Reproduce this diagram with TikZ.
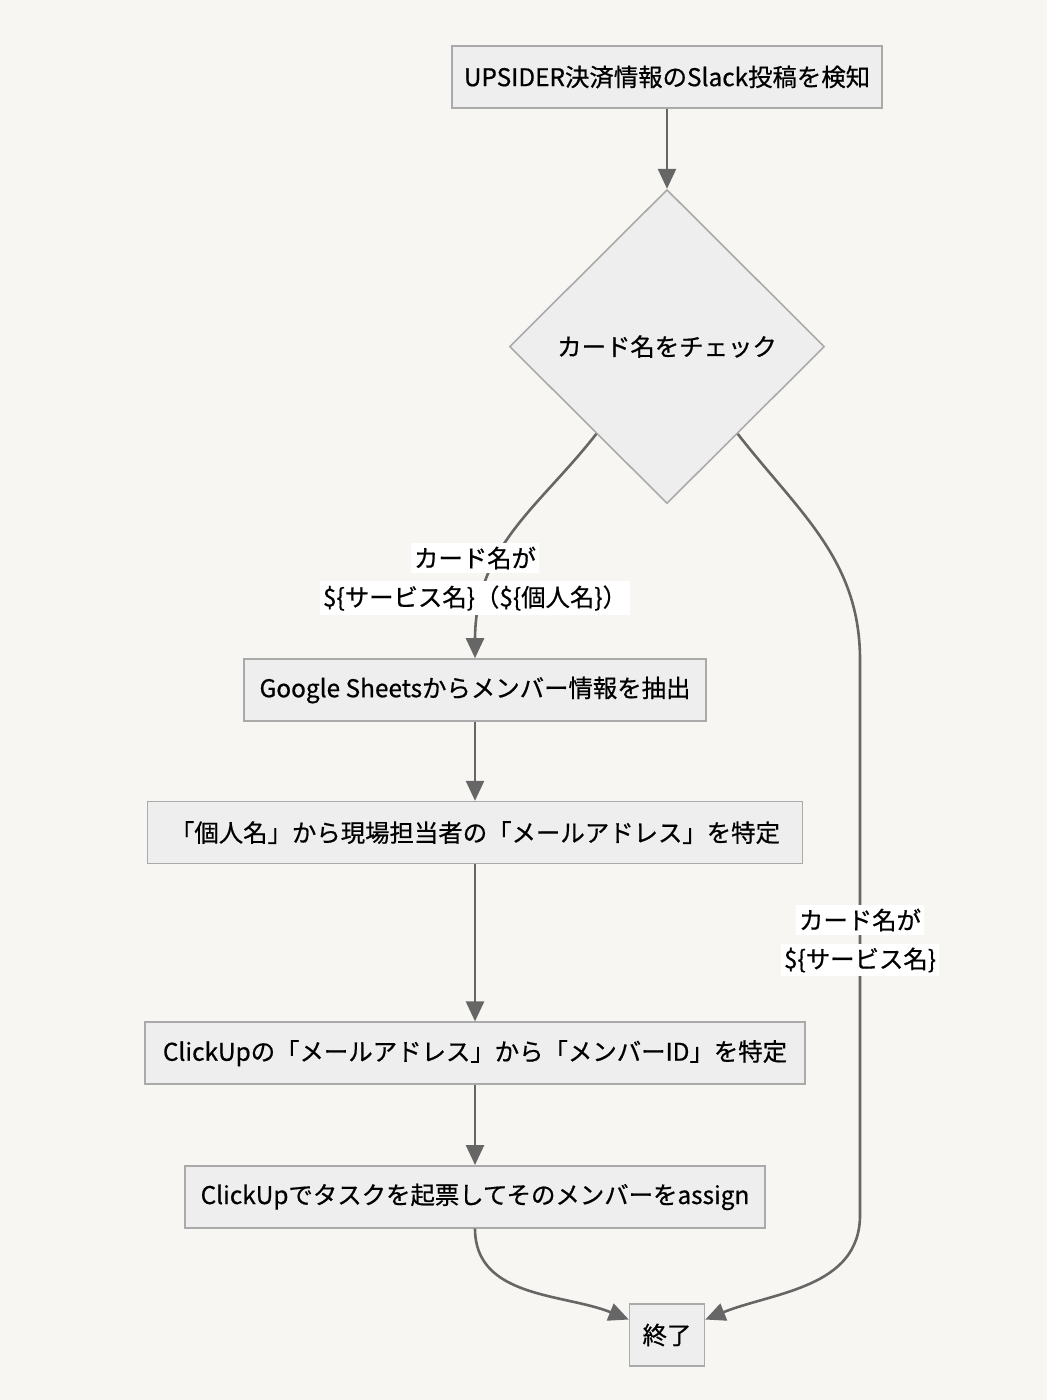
\documentclass[tikz,border=0pt]{standalone}
\usepackage{fontspec}
\setmainfont{Noto Sans CJK JP}[RawFeature={embolden=0.6}]
\usetikzlibrary{shapes.geometric,arrows.meta,positioning,calc}
\definecolor{bgcol}{HTML}{F7F6F2}
\definecolor{boxfill}{HTML}{EEEEEE}
\definecolor{boxline}{HTML}{AAAAAA}
\definecolor{linecol}{HTML}{666666}
\begin{document}
\begin{tikzpicture}[x=0.5pt,y=-0.5pt,
    stepbox/.style={rectangle, draw=boxline, fill=boxfill, line width=0.8pt, minimum height=31pt, font=\fontsize{12.2}{14}\selectfont},
    decision/.style={diamond, draw=boxline, fill=boxfill, line width=0.8pt, minimum width=157.5pt, minimum height=157pt, font=\fontsize{12.2}{14}\selectfont},
    flow/.style={draw=linecol, line width=1.3pt, -{Triangle[length=10pt,width=9pt]}},
    edgetext/.style={fill=white, inner xsep=1.5pt, inner ysep=2pt, font=\fontsize{12.2}{14}\selectfont}]
    \fill[bgcol] (0,0) rectangle (1047,1400);
    \useasboundingbox (0,0) rectangle (1047,1400);

    \node(detect) [stepbox, minimum width=215pt] at (667,77) {UPSIDER決済情報のSlack投稿を検知};
    \node(check) [decision, below = 40pt of detect] {カード名をチェック};
    \node(sheets) [stepbox, minimum width=231pt] at (475,690) {Google Sheetsからメンバー情報を抽出};
    \node(mail) [stepbox, minimum width=327.5pt, below = 39.5pt of sheets] {「個人名」から現場担当者の「メールアドレス」を特定};
    \node(member) [stepbox, minimum width=330pt, below = 78.5pt of mail] {ClickUpの「メールアドレス」から「メンバーID」を特定};
    \node(task) [stepbox, minimum width=290pt, below = 40pt of member] {ClickUpでタスクを起票してそのメンバーをassign};
    \node(finish) [stepbox, minimum width=37.5pt] at (667,1335) {終了};

    \coordinate(lbend) at (475,640);
    \coordinate(rbendA) at (860,660);
    \coordinate(rbendB) at (860,1215);

    \draw[flow] (detect) -- (check);
    \draw[flow] (check.231) to[out=-128,in=90] (lbend) -- (sheets.north);
    \draw[flow] (check.309) to[out=-52,in=90] (rbendA) -- (rbendB) to[out=-90,in=22] (finish.22);
    \draw[flow] (sheets) -- (mail);
    \draw[flow] (mail) -- (member);
    \draw[flow] (member) -- (task);
    \draw[flow] (task.south) to[out=-90,in=158] (finish.158);

    \node(leftlabA) [edgetext] at (475,558) {カード名が};
    \node(leftlabB) [edgetext] at (475,598) {\$\{サービス名\}（\$\{個人名\}）};
    \node(rightlabA) [edgetext] at (860,920) {カード名が};
    \node(rightlabB) [edgetext] at (860,960) {\$\{サービス名\}};
\end{tikzpicture}
\end{document}
